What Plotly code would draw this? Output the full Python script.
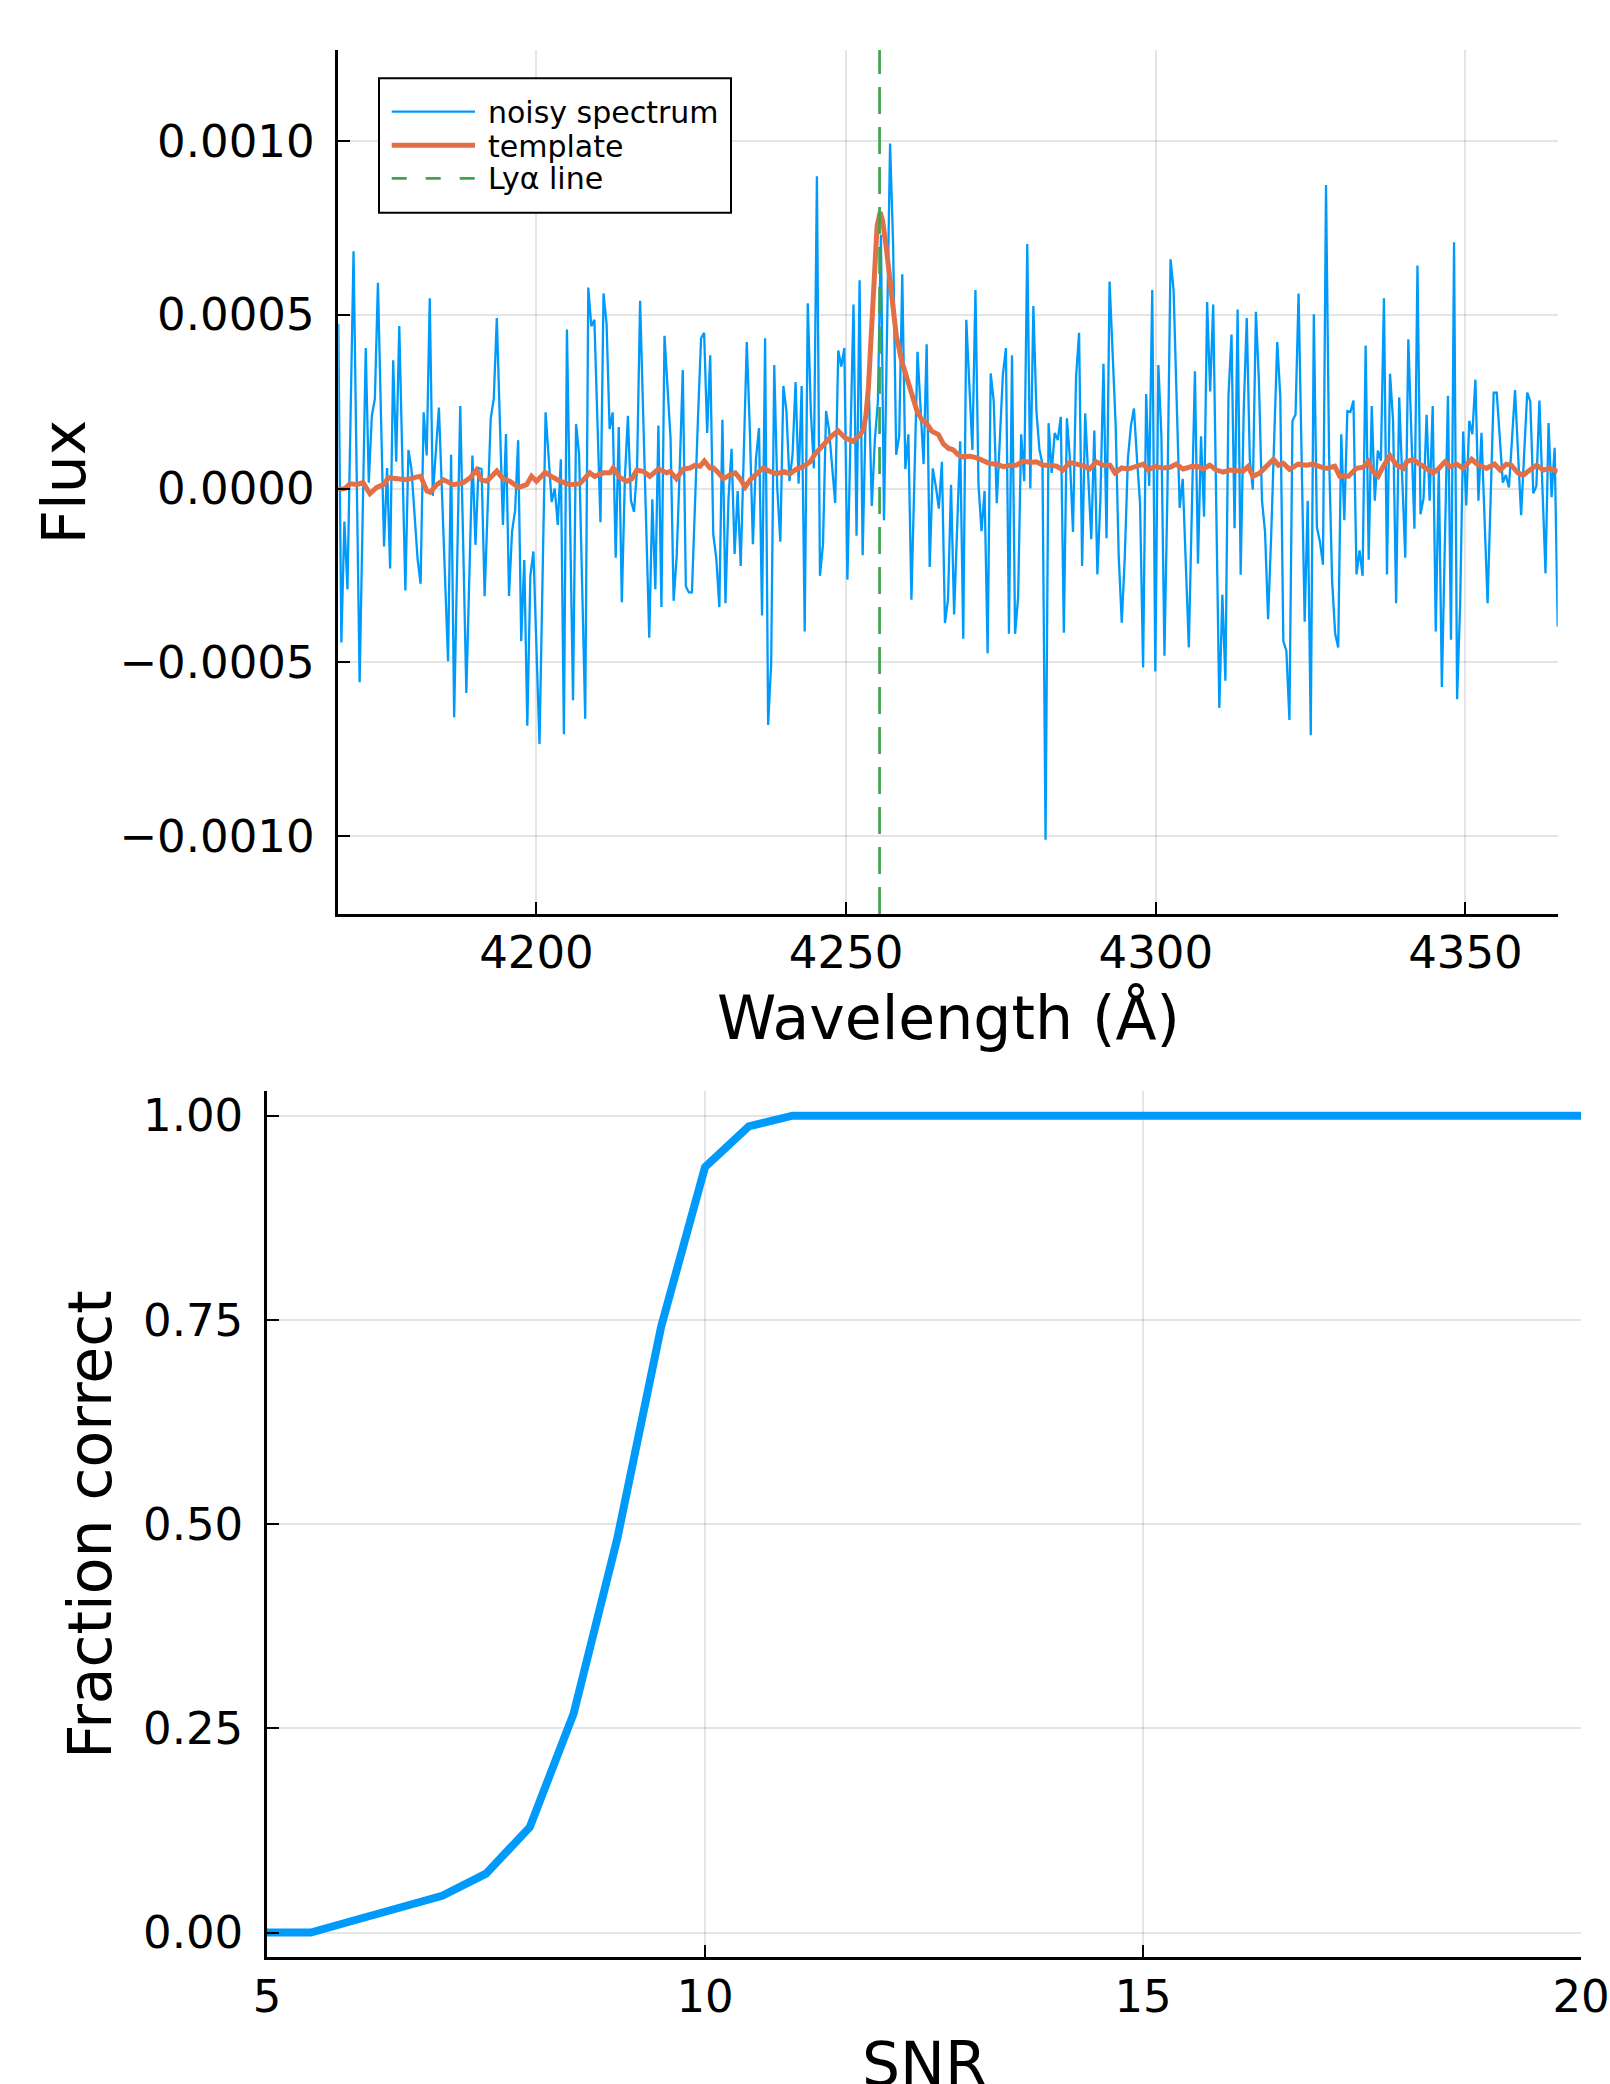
import numpy as np
import plotly.graph_objects as go

# ---------------------------------------------------------------------------
# Data
# ---------------------------------------------------------------------------
# Observed-frame wavelength grid of the spectrum (Angstrom)
WAVE_START = 4168.0
WAVE_END = 4364.9
N_PIX = 401

FLUX_UNIT = 1e-4  # the flux lists below are given in units of 1e-4

# Noisy spectrum, one value per pixel
noisy_flux = [
    4.74, -4.43, -0.95, -2.90, 1.96, 6.82, 0.60, -5.57, -0.77, 4.04,
    0.17, 2.09, 2.58, 5.92, 2.10, -1.67, 0.59, -2.30, 3.69, 0.77,
    4.67, 0.87, -2.93, 1.11, 0.56, -0.73, -2.02, -2.74, 2.19, 0.95,
    5.47, -0.21, 1.06, 2.33, -0.10, -2.60, -4.97, 0.97, -6.58, -2.10,
    2.37, -1.75, -5.88, -2.47, 0.95, -1.62, 0.59, 0.56, -3.10, -0.54,
    2.02, 2.58, 4.90, 1.93, -1.05, 1.57, -3.09, -1.23, -0.63, 1.39,
    -4.39, -2.06, -6.82, -2.51, -1.81, -4.58, -7.35, -2.58, 2.19, 0.90,
    -0.39, 0.00, -1.05, 0.84, -7.07, 4.57, -0.76, -6.09, 1.85, 0.97,
    -2.83, -6.62, 5.78, 4.67, 4.85, 1.90, -0.97, 5.61, 4.74, 1.71,
    2.19, -1.99, 1.77, -3.27, 0.28, 2.09, -0.35, -0.67, 0.56, 5.40,
    2.37, -0.97, -4.29, -0.31, -2.90, 1.81, -3.41, 4.39, 3.00, 1.42,
    -3.23, -1.95, 0.56, 3.41, -2.81, -2.99, -2.99, -0.28, 2.06, 4.32,
    4.48, 1.60, 3.83, -1.32, -2.02, -3.41, 1.98, -3.30, -0.28, 1.14,
    -1.88, -0.07, -2.23, 0.97, 4.21, 1.67, -1.60, 0.84, 1.74, -3.65,
    4.32, -6.80, -5.01, 3.55, 0.00, -1.53, 2.95, 2.23, 0.21, 0.97,
    3.06, 0.14, 2.95, -4.11, 5.33, 2.23, 0.58, 8.98, -2.51, -1.60,
    2.23, 1.67, 0.63, -0.42, 3.97, 3.51, 4.04, -2.62, 1.39, 5.29,
    -1.36, 5.99, -1.92, 2.16, 3.00, -0.50, 1.39, 2.50, 7.30, -0.91,
    4.50, 9.92, 7.00, 0.97, 1.53, 6.16, 0.56, 1.56, -3.20, 0.37,
    3.93, 2.30, 0.70, 4.15, -2.26, 0.58, 0.07, -0.58, 0.77, -3.87,
    -3.20, 0.11, -3.62, -1.13, 1.36, -4.32, 4.85, 2.98, 1.11, 5.71,
    0.11, -1.23, -0.07, -4.74, 3.31, 2.51, -0.42, 1.40, 3.27, 4.04,
    -4.18, 3.83, -4.18, -3.13, 1.56, 0.21, 7.03, 0.00, 5.25, 2.23,
    1.11, 0.70, -10.10, 1.88, 0.45, 1.60, 1.39, 2.06, -4.15, 2.02,
    0.84, -1.25, 3.20, 4.48, -2.23, 2.16, 0.14, -1.46, 1.67, -2.47,
    -0.28, 3.59, -1.43, 5.95, 3.90, 1.81, -1.95, -3.86, -1.95, 0.84,
    1.81, 2.30, 0.84, -0.42, -5.15, 2.72, 0.07, 5.71, -5.26, 3.55,
    1.53, -4.81, 0.00, 6.59, 5.71, 2.23, -0.56, 0.28, -1.95, -4.57,
    -0.56, 3.37, -2.16, 1.50, -0.81, 5.36, 2.79, 5.29, -0.56, -6.31,
    -3.06, -5.53, 2.65, 4.43, -1.14, 5.15, -2.48, 2.23, 4.90, 0.84,
    -0.03, 5.08, 3.06, -0.35, -1.25, -3.76, -1.39, 1.40, 4.21, 2.65,
    -4.39, -4.67, -6.66, 1.95, 2.13, 5.61, 0.90, -3.83, -0.35, -7.10,
    5.01, -1.11, -1.53, -2.19, 8.73, 1.00, -2.65, -4.18, -4.57, 1.56,
    -0.91, 2.23, 2.20, 2.53, -2.47, -1.78, -2.51, 4.11, -2.05, 2.37,
    -0.35, 1.09, 0.80, 5.47, -2.47, 3.30, 1.95, -3.30, 2.62, 0.30,
    -1.99, 4.29, 1.60, -1.16, 6.41, -0.74, -0.28, 2.12, -0.35, 2.37,
    -4.11, 0.60, -5.71, -1.50, 2.67, -4.35, 7.08, -6.06, -3.34, 1.64,
    -0.49, 1.95, 1.56, 3.13, -0.35, 1.60, -0.90, -3.30, -0.30, 2.76,
    2.76, 1.50, 0.17, 0.39, 0.03, 1.40, 2.83, 1.00, -0.77, 1.00,
    2.76, 2.51, -0.14, 0.07, 2.53, 0.00, -2.44, 1.88, -0.25, 1.17,
    -3.97,
]

# Template spectrum (wavelength in Angstrom, flux in units of 1e-4)
template_wave = [
    4168.0, 4169.1, 4169.9, 4171.0, 4172.0, 4173.1, 4174.2, 4175.3, 4176.1, 4177.4,
    4179.0, 4180.4, 4181.3, 4182.3, 4182.8, 4183.9, 4185.0, 4186.6, 4188.2, 4189.3,
    4190.3, 4191.1, 4192.0, 4193.6, 4194.6, 4195.7, 4197.1, 4198.4, 4199.2, 4200.0,
    4201.4, 4202.4, 4203.8, 4205.4, 4207.0, 4208.6, 4209.4, 4210.8, 4211.9, 4212.4,
    4213.5, 4214.6, 4215.4, 4216.2, 4217.3, 4218.3, 4219.7, 4221.0, 4221.6, 4222.6,
    4223.7, 4224.8, 4225.6, 4226.4, 4227.1, 4228.0, 4228.6, 4229.4, 4230.2, 4231.2,
    4232.1, 4232.9, 4233.7, 4234.5, 4235.6, 4236.6, 4237.7, 4238.8, 4239.9, 4240.9,
    4242.0, 4243.1, 4244.2, 4245.0, 4245.8, 4246.9, 4247.6, 4248.7, 4249.8, 4251.1,
    4252.2, 4252.8, 4253.2, 4253.6, 4254.1, 4254.6, 4255.0, 4255.5, 4255.9, 4256.5,
    4257.3, 4258.1, 4259.0, 4260.3, 4261.4, 4262.2, 4263.0, 4263.8, 4264.9, 4265.7,
    4266.5, 4267.3, 4268.1, 4268.9, 4270.0, 4271.1, 4272.1, 4273.2, 4274.3, 4275.4,
    4276.4, 4277.5, 4278.6, 4279.7, 4280.7, 4281.8, 4282.9, 4284.0, 4285.0, 4286.1,
    4287.2, 4288.3, 4289.3, 4290.4, 4291.5, 4292.6, 4293.4, 4294.5, 4295.5, 4296.9,
    4298.0, 4298.8, 4299.8, 4301.2, 4302.3, 4303.3, 4304.4, 4305.8, 4306.8, 4307.6,
    4308.7, 4309.8, 4310.9, 4311.9, 4313.0, 4314.1, 4314.9, 4315.7, 4316.8, 4317.9,
    4319.0, 4319.8, 4320.6, 4321.6, 4323.0, 4324.3, 4325.4, 4326.5, 4327.6, 4328.9,
    4329.7, 4331.1, 4332.4, 4333.5, 4334.3, 4335.1, 4335.9, 4336.7, 4337.8, 4338.9,
    4340.0, 4340.5, 4341.6, 4342.6, 4343.7, 4344.8, 4345.6, 4346.7, 4347.5, 4348.6,
    4349.6, 4351.0, 4352.1, 4353.4, 4354.7, 4355.6, 4356.6, 4357.4, 4358.5, 4359.3,
    4360.4, 4361.5, 4362.6, 4363.6, 4364.9,
]
template_flux = [
    -0.03, 0.00, 0.14, 0.11, 0.17, -0.15, 0.03, 0.11, 0.31, 0.28,
    0.25, 0.32, 0.35, -0.07, -0.11, 0.11, 0.25, 0.11, 0.17, 0.31,
    0.53, 0.25, 0.21, 0.50, 0.28, 0.21, 0.03, 0.11, 0.35, 0.21,
    0.46, 0.35, 0.21, 0.11, 0.14, 0.45, 0.35, 0.45, 0.45, 0.59,
    0.31, 0.21, 0.28, 0.53, 0.49, 0.35, 0.56, 0.45, 0.49, 0.28,
    0.56, 0.59, 0.67, 0.64, 0.79, 0.59, 0.59, 0.45, 0.28, 0.39,
    0.45, 0.28, 0.04, 0.25, 0.42, 0.59, 0.49, 0.42, 0.49, 0.42,
    0.56, 0.63, 0.77, 1.00, 1.15, 1.39, 1.50, 1.66, 1.46, 1.36,
    1.53, 1.70, 2.10, 2.90, 4.60, 6.70, 7.55, 7.95, 7.70, 6.90,
    5.50, 4.40, 3.65, 2.90, 2.25, 1.98, 1.88, 1.65, 1.55, 1.28,
    1.16, 1.11, 0.97, 0.91, 0.93, 0.88, 0.81, 0.72, 0.70, 0.63,
    0.67, 0.67, 0.79, 0.75, 0.77, 0.67, 0.67, 0.64, 0.53, 0.75,
    0.70, 0.65, 0.56, 0.77, 0.67, 0.67, 0.45, 0.59, 0.56, 0.63,
    0.70, 0.53, 0.63, 0.59, 0.61, 0.70, 0.56, 0.63, 0.63, 0.56,
    0.67, 0.53, 0.47, 0.53, 0.53, 0.50, 0.63, 0.35, 0.45, 0.67,
    0.84, 0.67, 0.72, 0.55, 0.70, 0.67, 0.70, 0.63, 0.58, 0.64,
    0.35, 0.35, 0.58, 0.61, 0.77, 0.49, 0.35, 0.63, 0.95, 0.67,
    0.58, 0.77, 0.84, 0.70, 0.56, 0.45, 0.56, 0.77, 0.63, 0.70,
    0.58, 0.84, 0.67, 0.58, 0.70, 0.53, 0.70, 0.67, 0.45, 0.38,
    0.53, 0.67, 0.53, 0.58, 0.49,
]

# Observed Lyman-alpha wavelength (Angstrom)
lya_wave = 4255.4

# Detection success rate versus signal-to-noise ratio
snr = [5.0, 5.5, 6.0, 6.5, 7.0, 7.5, 8.0, 8.5, 9.0, 9.5, 10.0,
       10.5, 11.0, 11.5, 12.0, 12.5, 13.0, 13.5, 14.0, 14.5, 15.0,
       15.5, 16.0, 16.5, 17.0, 17.5, 18.0, 18.5, 19.0, 19.5, 20.0]
fraction_correct = [0.0, 0.0, 0.015, 0.03, 0.045, 0.072, 0.129, 0.268, 0.483, 0.742, 0.937,
                    0.987, 1.0, 1.0, 1.0, 1.0, 1.0, 1.0, 1.0, 1.0, 1.0,
                    1.0, 1.0, 1.0, 1.0, 1.0, 1.0, 1.0, 1.0, 1.0, 1.0]

# Tick labels
flux_ticks = [-0.0010, -0.0005, 0.0, 0.0005, 0.0010]
flux_ticktext = ["\u22120.0010", "\u22120.0005", "0.0000", "0.0005", "0.0010"]
wave_ticks = [4200, 4250, 4300, 4350]
frac_ticks = [0.0, 0.25, 0.5, 0.75, 1.0]
frac_ticktext = ["0.00", "0.25", "0.50", "0.75", "1.00"]
snr_ticks = [5, 10, 15, 20]

# ---------------------------------------------------------------------------
# Styling
# ---------------------------------------------------------------------------
W, H = 1610, 2084
FONT = "DejaVu Sans"
BLUE = "rgb(0,154,250)"
ORANGE = "rgb(227,111,71)"
GREEN = "rgb(62,164,78)"
GRID = "rgba(0,0,0,0.10)"


def px_x(x):
    return x / W


def px_y(y):
    return 1.0 - y / H


wave = np.linspace(WAVE_START, WAVE_END, N_PIX)
noisy = np.array(noisy_flux) * FLUX_UNIT
tmpl = np.array(template_flux) * FLUX_UNIT

fig = go.Figure()

fig.add_trace(go.Scatter(
    x=wave, y=noisy, mode="lines", name="noisy spectrum",
    line=dict(color=BLUE, width=2.3), xaxis="x", yaxis="y",
))
fig.add_trace(go.Scatter(
    x=template_wave, y=tmpl, mode="lines", name="template",
    line=dict(color=ORANGE, width=5), xaxis="x", yaxis="y",
))
fig.add_trace(go.Scatter(
    x=snr, y=fraction_correct, mode="lines", name="fraction correct",
    line=dict(color=BLUE, width=8), xaxis="x2", yaxis="y2",
))

axis_common = dict(
    automargin=False,
    showline=True, linecolor="black", linewidth=2.5, mirror=False,
    ticks="inside", ticklen=12, tickwidth=2, tickcolor="black",
    showgrid=True, gridcolor=GRID, gridwidth=1.5, zeroline=False,
    tickfont=dict(family=FONT, size=45, color="black"),
)

fig.update_layout(
    width=W, height=H, autosize=False,
    margin=dict(l=0, r=0, t=0, b=0, pad=0),
    paper_bgcolor="white", plot_bgcolor="white",
    showlegend=False,
    font=dict(family=FONT, color="black"),
    xaxis=dict(
        axis_common, domain=[px_x(338.3), px_x(1557.7)], anchor="y",
        range=[WAVE_START, WAVE_END], tickvals=wave_ticks,
        ticktext=[str(v) for v in wave_ticks], ticklabelstandoff=-3,
    ),
    yaxis=dict(
        axis_common, domain=[px_y(914.0), px_y(50.0)], anchor="x",
        range=[-1.2238e-3, 1.2612e-3], tickvals=flux_ticks,
        ticktext=flux_ticktext, ticklabelstandoff=12,
    ),
    xaxis2=dict(
        axis_common, domain=[px_x(267.0), px_x(1581.0)], anchor="y2",
        range=[5, 20], tickvals=snr_ticks,
        ticktext=[str(v) for v in snr_ticks], ticklabelstandoff=-2,
    ),
    yaxis2=dict(
        axis_common, domain=[px_y(1957.0), px_y(1091.2)], anchor="x2",
        range=[-0.03, 1.03], tickvals=frac_ticks,
        ticktext=frac_ticktext, ticklabelstandoff=12,
    ),
)

# Lyman-alpha marker across the full height of the spectrum panel
fig.add_shape(
    type="line", xref="x", yref="y domain",
    x0=lya_wave, x1=lya_wave, y0=0, y1=1,
    line=dict(color=GREEN, width=2.7, dash="27px,13px"), layer="above",
)

# Axis titles
title_font = dict(family=FONT, size=60, color="black")
annotations = [
    dict(text="Wavelength (\u00c5)", x=px_x(948), y=px_y(1018), xref="paper", yref="paper",
         xanchor="center", yanchor="middle", showarrow=False, font=title_font),
    dict(text="Flux", x=px_x(64), y=px_y(482.5), xref="paper", yref="paper",
         xanchor="center", yanchor="middle", showarrow=False, font=title_font, textangle=-90),
    dict(text="SNR", x=px_x(924), y=px_y(2064), xref="paper", yref="paper",
         xanchor="center", yanchor="middle", showarrow=False, font=title_font),
    dict(text="Fraction correct", x=px_x(90), y=px_y(1525), xref="paper", yref="paper",
         xanchor="center", yanchor="middle", showarrow=False, font=title_font, textangle=-90),
]

# Legend box for the spectrum panel
fig.add_shape(
    type="rect", xref="paper", yref="paper",
    x0=px_x(379), x1=px_x(731), y0=px_y(212.7), y1=px_y(78.3),
    line=dict(color="black", width=2), fillcolor="white", layer="above",
)
legend_rows = [
    ("noisy spectrum", BLUE, 2.3, "solid", 111.7, 112.8),
    ("template", ORANGE, 5, "solid", 145.3, 146.2),
    ("Ly\u03b1 line", GREEN, 2.7, "15px,19px", 178.3, 178.8),
]
for label, color, width, dash, y_line, y_text in legend_rows:
    fig.add_shape(
        type="line", xref="paper", yref="paper",
        x0=px_x(391.7), x1=px_x(475), y0=px_y(y_line), y1=px_y(y_line),
        line=dict(color=color, width=width, dash=dash), layer="above",
    )
    annotations.append(dict(
        text=label, x=px_x(486), y=px_y(y_text), xref="paper", yref="paper",
        xanchor="left", yanchor="middle", showarrow=False,
        font=dict(family=FONT, size=30, color="black"),
    ))

fig.update_layout(annotations=annotations)

fig.write_html("out.html")
